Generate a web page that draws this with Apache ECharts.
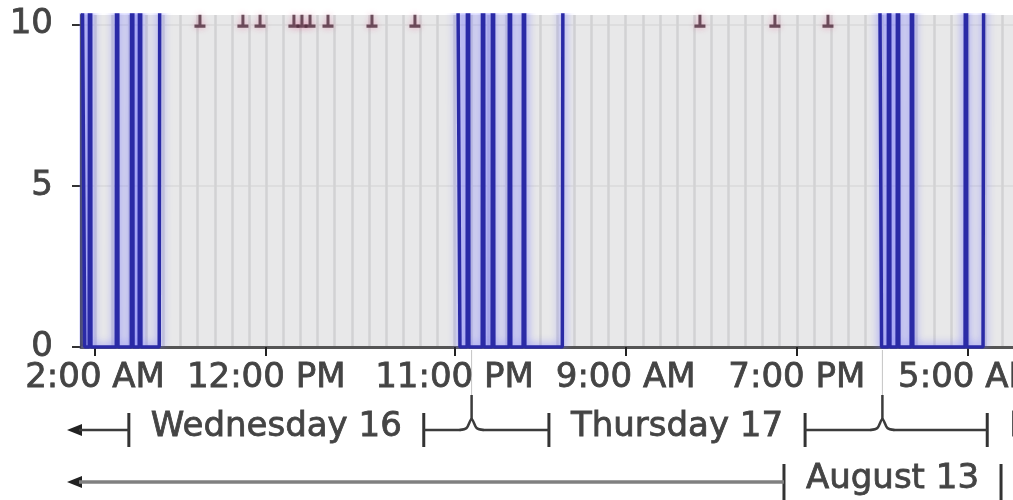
<!DOCTYPE html>
<html>
<head>
<meta charset="utf-8">
<script src="https://cdn.jsdelivr.net/npm/echarts@6/dist/echarts.min.js"></script>
<style>
  html, body { margin: 0; padding: 0; background: #fff; }
  #chart { width: 1013px; height: 500px; }
</style>
</head>
<body>
<div id="chart"></div>
<script>
// all times are hours counted from Wednesday 16, 00:00
const xMin = 1.18
const xMax = 55.63
const tickHours = [2, 12, 23, 33, 43, 53]
const tickLabels = ['2:00 AM', '12:00 PM', '11:00 PM', '9:00 AM', '7:00 PM', '5:00 AM']
const yTicks = [0, 5, 10]

// time scale rows under the axis
const dayNames = ['Wednesday 16', 'Thursday 17', 'Friday 18']
const dayStarts = [0, 24, 48]
const dayEnds = [24, 48, 72]
const weekNames = ['August 13']
const weekStarts = [-72]
const weekEnds = [96]

// blue series: sits above the visible range except for the drops to 0
const usageHours = [
  0.9, 1.40, 1.66, 1.71, 1.76, 3.24, 3.29, 3.34, 4.12, 4.17, 4.22, 4.58, 4.63, 4.68, 5.75, 5.85,
  22.9, 23.32, 23.74, 23.79, 23.84, 24.62, 24.67, 24.72, 25.20, 25.25, 25.30, 26.19, 26.24, 26.29,
  27.01, 27.06, 27.11, 29.30, 29.42,
  47.6, 47.95, 48.34, 48.39, 48.44, 48.86, 48.91, 48.96, 49.68, 49.73, 49.78, 52.83, 52.88, 52.93,
  53.88, 54.0, 56.0
]
const usageValues = [
  40, 0, 0, 40, 0, 0, 40, 0, 0, 40, 0, 0, 40, 0, 0, 40,
  40, 0, 0, 40, 0, 0, 40, 0, 0, 40, 0, 0, 40, 0,
  0, 40, 0, 0, 40,
  40, 0, 0, 40, 0, 0, 40, 0, 0, 40, 0, 0, 40, 0,
  0, 40, 40
]

// small markers along the top edge
const markHours = [8.13, 10.64, 11.64, 13.62, 14.09, 14.56, 15.61, 18.18, 20.69, 37.34, 41.72, 44.82]
const markValues = [10, 10, 10, 10, 10, 10, 10, 10, 10, 10, 10, 10]

const FONT = 'DejaVu Sans'
const TEXT_COLOR = '#444'

// hourly grid lines
const hourGrid = []
for (let h = Math.ceil(xMin); h <= xMax; h++) hourGrid.push(h)

const chart = echarts.init(document.getElementById('chart'))
chart.setOption({
  animation: false,
  grid: {
    left: 81, right: 0, top: 15, bottom: 153,
    outerBoundsMode: 'none', containLabel: false,
    show: true, backgroundColor: '#e8e8e9', borderWidth: 0
  },
  xAxis: [
    {
      type: 'value', min: xMin, max: xMax, position: 'bottom',
      axisLine: { show: false },
      axisTick: { show: false, customValues: hourGrid },
      axisLabel: { show: false },
      splitLine: { show: true, lineStyle: { color: '#d2d2d3', width: 2.5 } }
    },
    {
      type: 'value', min: xMin, max: xMax, position: 'bottom',
      axisLine: { show: true, onZero: false, lineStyle: { color: '#555', width: 3 } },
      axisTick: { show: true, customValues: tickHours, length: 9, lineStyle: { color: '#222', width: 2 } },
      axisLabel: {
        customValues: tickHours,
        formatter: v => tickLabels[tickHours.indexOf(v)],
        fontFamily: FONT, fontSize: 34, color: TEXT_COLOR, margin: 14,
        textBorderColor: TEXT_COLOR, textBorderWidth: 0.8
      },
      splitLine: { show: false }
    }
  ],
  yAxis: {
    type: 'value', min: 0, max: 10.29,
    axisLine: { show: true, lineStyle: { color: '#444', width: 3 } },
    axisTick: { show: true, customValues: yTicks, length: 9, lineStyle: { color: '#333', width: 2 } },
    axisLabel: {
      customValues: yTicks, fontFamily: FONT, fontSize: 34, color: TEXT_COLOR, margin: 28,
      textBorderColor: TEXT_COLOR, textBorderWidth: 0.8
    },
    splitLine: { show: true, lineStyle: { color: '#dadada', width: 1.5 } }
  },
  series: [
    {
      type: 'line',
      xAxisIndex: 0,
      data: usageHours.map((h, i) => [h, usageValues[i]]),
      symbol: 'none',
      clip: true,
      lineStyle: { color: '#2a2aa6', width: 3.5, shadowColor: 'rgba(110,110,255,0.9)', shadowBlur: 10 },
      z: 3
    },
    {
      type: 'scatter',
      xAxisIndex: 0,
      data: markHours.map((h, i) => [h, markValues[i]]),
      symbol: 'path://M4,0 L7,0 L7,9 L11,9 L11,12 L0,12 L0,9 L4,9 Z',
      symbolSize: [11, 13],
      symbolOffset: [0, -3],
      itemStyle: { color: '#4d2b3b', shadowColor: 'rgba(220,90,140,0.6)', shadowBlur: 6 },
      z: 4
    }
  ]
})

// ---- day / week rows drawn from the axis scale ----
const px = h => chart.convertToPixel({ xAxisIndex: 0 }, h)
const ctx = document.createElement('canvas').getContext('2d')
ctx.font = '34px "' + FONT + '"'
const textW = s => ctx.measureText(s).width
const PAD = 22

function line(x1, y1, x2, y2, stroke, w) {
  return { type: 'line', silent: true, shape: { x1, y1, x2, y2 }, style: { stroke, lineWidth: w } }
}

function buildRow(names, starts, ends, y, lineColor, lineW, barH, brackets) {
  const els = []
  const left = px(xMin)
  const segs = names.map((name, i) => {
    const a = px(Math.max(starts[i], xMin))
    const b = px(ends[i])
    const c = (a + b) / 2
    const half = textW(name) / 2 + PAD
    return { name, c, l: c - half, r: c + half, cut: starts[i] < xMin, end: ends[i] }
  })
  segs.forEach(s => {
    els.push({
      type: 'text', silent: true,
      style: {
        text: s.name, x: s.c, y: y - 3, fill: TEXT_COLOR,
        stroke: TEXT_COLOR, lineWidth: 0.8,
        fontFamily: FONT, fontSize: 34, align: 'center', verticalAlign: 'middle'
      }
    })
    els.push(line(s.l, y - barH / 2, s.l, y + barH / 2, '#333', 3))
    els.push(line(s.r, y - barH / 2, s.r, y + barH / 2, '#333', 3))
  })
  if (segs[0].cut) {
    const tip = left - 14
    els.push({
      type: 'polygon', silent: true,
      shape: { points: [[tip, y], [tip + 15, y - 6], [tip + 15, y + 6]] },
      style: { fill: '#222' }
    })
    els.push(line(tip + 12, y, segs[0].l, y, lineColor, lineW))
  }
  if (brackets) {
    for (let i = 0; i < segs.length - 1; i++) {
      const bx = px(segs[i].end)
      els.push(line(segs[i].r, y, bx - 11, y, lineColor, lineW))
      els.push(line(bx + 11, y, segs[i + 1].l, y, lineColor, lineW))
      els.push({
        type: 'polyline', silent: true,
        shape: { points: [[bx - 12, y], [bx - 5, y - 2], [bx, y - 11], [bx + 5, y - 2], [bx + 12, y]], smooth: 0.3 },
        style: { stroke: lineColor, lineWidth: lineW, fill: null }
      })
      els.push(line(bx, y - 11, bx, y - 35, lineColor, lineW))
      els.push(line(bx, y - 35, bx, 350, '#c4c4c4', 1))
    }
  }
  return els
}

const graphics = []
  .concat(buildRow(dayNames, dayStarts, dayEnds, 430, '#3c3c3c', 2.5, 34, true))
  .concat(buildRow(weekNames, weekStarts, weekEnds, 482, '#808080', 3.5, 36, false))

chart.setOption({ graphic: { elements: graphics } })
</script>
</body>
</html>
